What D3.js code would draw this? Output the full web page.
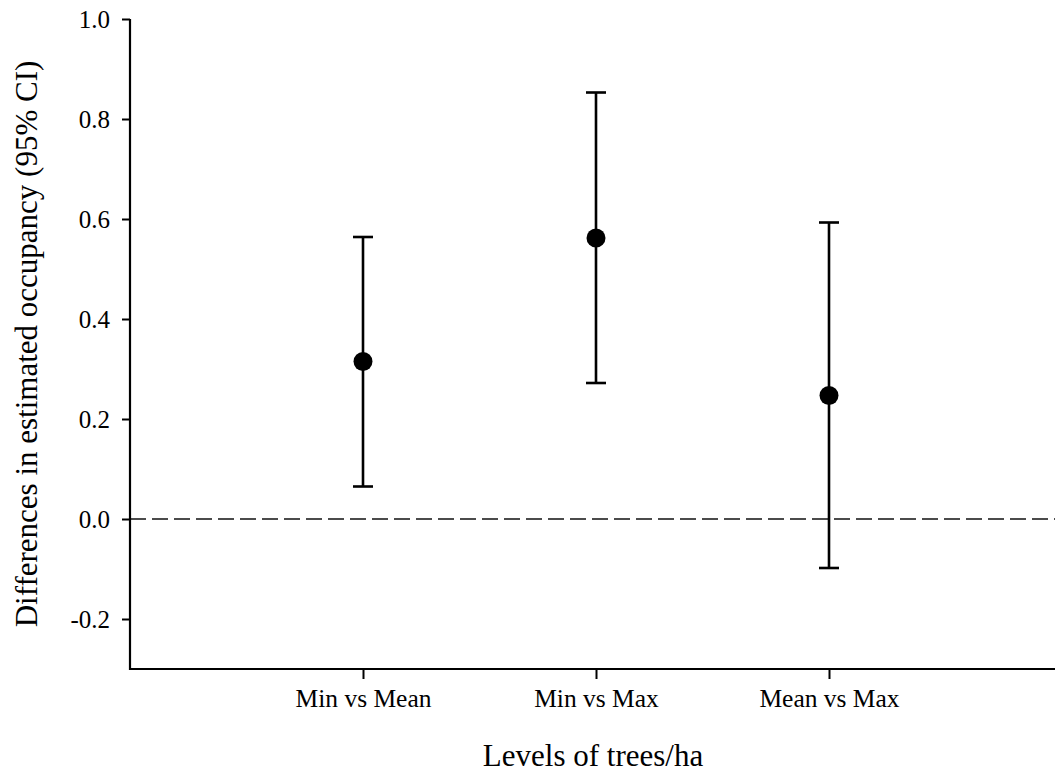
<!DOCTYPE html>
<html>
<head>
<meta charset="utf-8">
<script src="https://cdn.jsdelivr.net/npm/d3@7"></script>
<style>
  html, body { margin: 0; padding: 0; background: #fff; }
  svg { display: block; }
  text { font-family: "Liberation Serif", "Times New Roman", serif; fill: #000; }
</style>
</head>
<body>
<svg id="chart" width="1055" height="782"></svg>
<script>
// Pairwise comparisons of tree-density levels
const categories = ["Min vs Mean", "Min vs Max", "Mean vs Max"];
const estimates  = [0.315, 0.562, 0.247];
const lowerCI    = [0.065, 0.272, -0.098];
const upperCI    = [0.564, 0.853, 0.593];
const yTicks     = [-0.2, 0.0, 0.2, 0.4, 0.6, 0.8, 1.0];

const serif = "'Liberation Serif', 'Times New Roman', serif";
const svg = d3.select("#chart");

const plotLeft = 130, plotRight = 1062, plotTop = 19, plotBottom = 669;

// categories sit at positions 1..3 on a 0..4 axis
const x = d3.scaleLinear().domain([0, 4]).range([plotLeft, plotRight]);
const y = d3.scaleLinear().domain([-0.3, 1.0]).range([plotBottom, plotTop]);

const rows = categories.map((c, i) => ({
  cat: c, pos: i + 1, est: estimates[i], lo: lowerCI[i], hi: upperCI[i]
}));

// reference line at zero difference
svg.append("line")
  .attr("x1", x(0)).attr("x2", 1055)
  .attr("y1", y(0)).attr("y2", y(0))
  .attr("stroke", "#111").attr("stroke-width", 1.4)
  .attr("stroke-dasharray", "16,6");

// y axis
const yAxis = d3.axisLeft(y)
  .tickValues(yTicks)
  .tickFormat(d => d3.format(".1f")(d).replace("\u2212", "-"))
  .tickSizeInner(8).tickSizeOuter(0).tickPadding(12);
const gy = svg.append("g").attr("transform", `translate(${plotLeft},0)`).call(yAxis)
  .attr("font-family", null).attr("font-size", null);
gy.select(".domain").attr("stroke", "#000").attr("stroke-width", 2.2)
  .attr("d", `M0,${plotTop}V${plotBottom + 1}`);
gy.selectAll(".tick line").attr("stroke", "#000").attr("stroke-width", 2);
gy.selectAll(".tick text")
  .style("font-family", serif)
  .style("font-size", "25px");

// x axis
const xAxis = d3.axisBottom(x)
  .tickValues(rows.map(r => r.pos))
  .tickFormat((d, i) => categories[i])
  .tickSizeInner(10).tickSizeOuter(0).tickPadding(10);
const gx = svg.append("g").attr("transform", `translate(0,${plotBottom})`).call(xAxis)
  .attr("font-family", null).attr("font-size", null);
gx.select(".domain").attr("stroke", "#000").attr("stroke-width", 2.2)
  .attr("d", `M${plotLeft - 1},0H1055`);
gx.selectAll(".tick line").attr("stroke", "#000").attr("stroke-width", 2);
gx.selectAll(".tick text")
  .style("font-family", serif)
  .style("font-size", "25.5px");

// confidence intervals
const bars = svg.append("g");
bars.selectAll("line.ci").data(rows).join("line")
  .attr("class", "ci")
  .attr("x1", d => x(d.pos)).attr("x2", d => x(d.pos))
  .attr("y1", d => y(d.lo)).attr("y2", d => y(d.hi))
  .attr("stroke", "#000").attr("stroke-width", 2.6);
bars.selectAll("line.capHi").data(rows).join("line")
  .attr("class", "capHi")
  .attr("x1", d => x(d.pos) - 10).attr("x2", d => x(d.pos) + 10)
  .attr("y1", d => y(d.hi)).attr("y2", d => y(d.hi))
  .attr("stroke", "#000").attr("stroke-width", 2.6);
bars.selectAll("line.capLo").data(rows).join("line")
  .attr("class", "capLo")
  .attr("x1", d => x(d.pos) - 10).attr("x2", d => x(d.pos) + 10)
  .attr("y1", d => y(d.lo)).attr("y2", d => y(d.lo))
  .attr("stroke", "#000").attr("stroke-width", 2.6);

// point estimates
svg.append("g").selectAll("circle").data(rows).join("circle")
  .attr("cx", d => x(d.pos)).attr("cy", d => y(d.est))
  .attr("r", 9.5).attr("fill", "#000");

// axis titles
svg.append("text")
  .attr("x", 593).attr("y", 766)
  .attr("text-anchor", "middle")
  .style("font-family", serif)
  .style("font-size", "31px")
  .text("Levels of trees/ha");

svg.append("text")
  .attr("transform", `translate(37,${344}) rotate(-90)`)
  .attr("text-anchor", "middle")
  .style("font-family", serif)
  .style("font-size", "31px")
  .text("Differences in estimated occupancy (95% CI)");
</script>
</body>
</html>
